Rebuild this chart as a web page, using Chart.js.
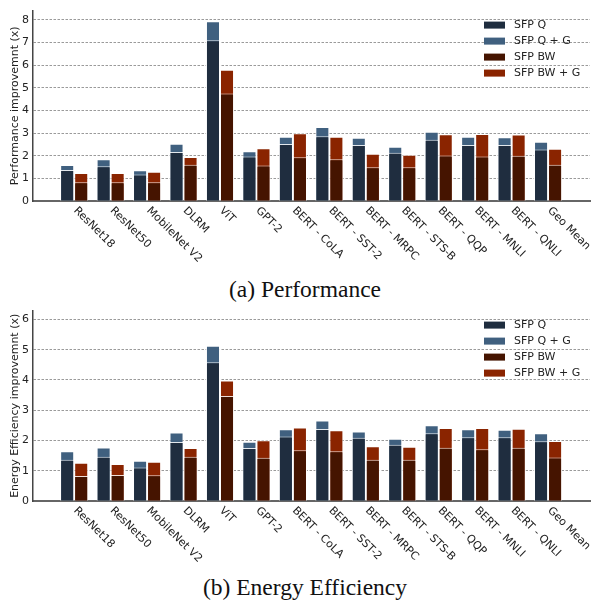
<!DOCTYPE html>
<html>
<head>
<meta charset="utf-8">
<title>SFP improvement</title>
<script src="https://cdn.jsdelivr.net/npm/chart.js@4.4.1/dist/chart.umd.min.js"></script>
<style>
    html, body { margin: 0; padding: 0; background: #fff; }
    .page { position: relative; width: 593px; height: 602px; overflow: hidden; }
    .panel { position: absolute; left: 0; width: 593px; height: 270px; }
    .caption {
        position: absolute; left: 0; width: 610px; text-align: center;
        font-family: "Liberation Serif", serif; font-size: 23.5px; line-height: 23px; color: #111;
    }
</style>
</head>
<body>
<div class="page">
    <div class="panel" style="top:0"><canvas id="perfChart" width="593" height="270"></canvas></div>
    <div class="caption" style="top:278px">(a) Performance</div>
    <div class="panel" style="top:300px"><canvas id="energyChart" width="593" height="270"></canvas></div>
    <div class="caption" style="top:576px">(b) Energy Efficiency</div>
</div>
<script>
/* ============================
   Data
   ============================ */
const categories = ['ResNet18', 'ResNet50', 'MobileNet V2', 'DLRM', 'ViT', 'GPT-2', 'BERT - CoLA',
    'BERT - SST-2', 'BERT - MRPC', 'BERT - STS-B', 'BERT - QQP', 'BERT - MNLI', 'BERT - QNLI', 'Geo Mean'];

// performance improvement (x), totals per bar
const perfQ   = [1.37, 1.53, 1.17, 2.16, 7.09, 1.96, 2.51, 2.86, 2.47, 2.13, 2.70, 2.47, 2.47, 2.27];
const perfQG  = [1.59, 1.84, 1.36, 2.53, 7.93, 2.19, 2.83, 3.26, 2.79, 2.39, 3.06, 2.83, 2.81, 2.61];
const perfBW  = [0.83, 0.83, 0.83, 1.60, 4.74, 1.57, 1.93, 1.84, 1.49, 1.49, 2.01, 1.96, 2.00, 1.60];
const perfBWG = [1.24, 1.24, 1.29, 1.94, 5.79, 2.33, 2.99, 2.83, 2.09, 2.04, 2.94, 2.96, 2.93, 2.30];

// energy efficiency improvement (x)
const energyQ   = [1.36, 1.46, 1.11, 1.95, 4.58, 1.75, 2.13, 2.38, 2.09, 1.86, 2.24, 2.11, 2.11, 1.97];
const energyQG  = [1.64, 1.77, 1.33, 2.26, 5.13, 1.96, 2.37, 2.66, 2.30, 2.06, 2.50, 2.37, 2.35, 2.24];
const energyBW  = [0.83, 0.86, 0.85, 1.46, 3.47, 1.43, 1.68, 1.64, 1.36, 1.36, 1.76, 1.71, 1.76, 1.44];
const energyBWG = [1.26, 1.22, 1.30, 1.75, 3.98, 2.01, 2.43, 2.34, 1.81, 1.79, 2.41, 2.41, 2.39, 1.98];

const perfTicks = [0, 1, 2, 3, 4, 5, 6, 7, 8];
const energyTicks = [0, 1, 2, 3, 4, 5, 6];

const COLORS = { q: '#1f2d3f', qg: '#40607f', bw: '#451400', bwg: '#8a2400' };
const FONT = '"DejaVu Sans", sans-serif';

/* ============================
   Plugins
   ============================ */
// x labels rotated clockwise, starting at the tick
const slantLabels = {
    id: 'slantLabels',
    afterDraw(chart) {
        const { ctx, chartArea, scales } = chart;
        ctx.save();
        ctx.font = '11px ' + FONT;
        ctx.fillStyle = '#222';
        ctx.textAlign = 'left';
        ctx.textBaseline = 'top';
        categories.forEach((name, i) => {
            const x = scales.x.getPixelForValue(i);
            ctx.save();
            ctx.translate(x + 5, chartArea.bottom + 4);
            ctx.rotate(Math.PI / 4);
            ctx.fillText(name, 0, 0);
            ctx.restore();
        });
        ctx.restore();
    }
};

// legend box in the upper right of the plot
const cornerLegend = {
    id: 'cornerLegend',
    afterDraw(chart) {
        const { ctx, chartArea } = chart;
        const x0 = chartArea.right - 106;
        ctx.save();
        ctx.font = '11px ' + FONT;
        ctx.textAlign = 'left';
        ctx.textBaseline = 'middle';
        chart.data.datasets.forEach((ds, i) => {
            const cy = chartArea.top + 14.5 + i * 16;
            ctx.fillStyle = ds.backgroundColor;
            ctx.fillRect(x0, cy - 3.5, 21, 7);
            ctx.fillStyle = '#222';
            ctx.fillText(ds.label, x0 + 30, cy + 0.5);
        });
        ctx.restore();
    }
};

/* ============================
   Chart builder
   ============================ */
function makeDatasets(q, qg, bw, bwg) {
    const pts = arr => arr.map((v, i) => ({ x: i, y: v }));
    const base = {
        borderColor: 'rgba(255,255,255,0.85)', borderWidth: 1,
        categoryPercentage: 0.77, barPercentage: 1.0
    };
    // first dataset of each stack is drawn on top of the total behind it
    return [
        { ...base, label: 'SFP Q', data: pts(q), backgroundColor: COLORS.q, stack: 'q' },
        { ...base, label: 'SFP Q + G', data: pts(qg), backgroundColor: COLORS.qg, stack: 'q' },
        { ...base, label: 'SFP BW', data: pts(bw), backgroundColor: COLORS.bw, stack: 'bw' },
        { ...base, label: 'SFP BW + G', data: pts(bwg), backgroundColor: COLORS.bwg, stack: 'bw' }
    ];
}

function buildChart(canvasId, datasets, yTicks, yMax, yTitle) {
    return new Chart(document.getElementById(canvasId), {
        type: 'bar',
        data: { datasets },
        options: {
            responsive: false, animation: false,
            layout: { padding: { left: 0, right: 3, top: 5, bottom: 69 } },
            plugins: { legend: { display: false }, tooltip: { enabled: false } },
            scales: {
                x: {
                    type: 'linear', stacked: true, offset: false, bounds: 'data',
                    min: -1.13, max: 14.15, z: 1,
                    afterBuildTicks: s => { s.ticks = categories.map((_, i) => ({ value: i })); },
                    ticks: { display: false },
                    grid: { display: false, drawTicks: false, offset: false },
                    border: { display: true, color: '#666', width: 2 }
                },
                y: {
                    stacked: false, min: 0, max: yMax,
                    afterBuildTicks: s => { s.ticks = yTicks.map(v => ({ value: v })); },
                    afterFit: s => { s.width = 33; },
                    ticks: { color: '#222', padding: 4, font: { family: FONT, size: 11 } },
                    grid: { color: '#808080', lineWidth: 0.8, drawTicks: false },
                    border: { display: true, color: '#444', width: 1.5, dash: [2.5, 1.5] },
                    title: {
                        display: true, text: yTitle, color: '#222',
                        font: { family: FONT, size: 11 }, padding: { top: 9, bottom: 0 }
                    }
                }
            }
        },
        plugins: [slantLabels, cornerLegend]
    });
}

buildChart('perfChart', makeDatasets(perfQ, perfQG, perfBW, perfBWG), perfTicks, 8.4, 'Performance improvemnt (x)');
buildChart('energyChart', makeDatasets(energyQ, energyQG, energyBW, energyBWG), energyTicks, 6.29, 'Energy Efficiency improvemnt (x)');
</script>
</body>
</html>
